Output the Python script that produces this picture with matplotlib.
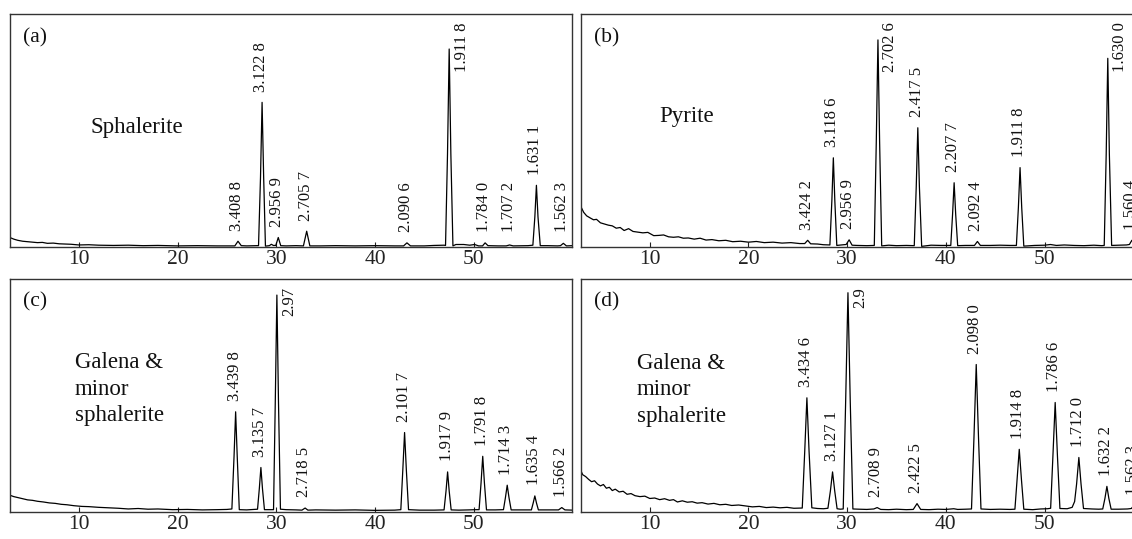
import matplotlib
matplotlib.use("Agg")
import matplotlib.pyplot as plt
import numpy as np

plt.rcParams['font.family'] = ['Liberation Serif', 'DejaVu Serif']

# ---- (a) sphalerite: 2theta / relative intensity
tt_a = [3.0, 3.4, 3.8, 4.3, 4.8, 5.3, 5.8, 6.3, 6.8, 7.4, 8.0, 8.6, 9.2, 10.0, 11.0, 12.0, 13.5, 15.0, 16.5, 18.0, 20.0, 22.0, 24.0, 25.8,
        26.12, 26.45, 27.0, 28.0, 28.2, 28.4, 28.56, 28.72, 28.9, 29.3, 29.5, 29.7, 29.95, 30.2, 30.45,
        31.0, 32.0, 32.75, 33.08, 33.4, 34.5, 36.0, 38.0, 40.0, 42.0, 42.9, 43.24, 43.6, 45.0, 46.0, 47.0, 47.15,
        47.35, 47.52, 47.69, 47.9, 48.2, 49.0, 49.6, 50.1, 50.5, 50.9, 51.16, 51.45, 52.5, 53.3, 53.64, 54.0,
        55.5, 56.0, 56.2, 56.36, 56.52, 56.75, 57.5, 58.5, 58.8, 59.09, 59.4, 60.0]
int_a = [4.2, 3.5, 3.0, 2.6, 2.4, 2.2, 2.0, 2.1, 1.7, 1.8, 1.5, 1.4, 1.3, 1.0, 1.1, 0.9, 0.8, 0.9, 0.7, 0.8, 0.6, 0.7, 0.6, 0.6,
         2.6, 0.7, 0.6, 0.7, 0.7, 30.0, 62.2, 30.0, 0.5, 0.7, 1.3, 0.8, 0.8, 4.2, 0.7,
         0.6, 0.7, 0.6, 6.9, 0.6, 0.6, 0.7, 0.6, 0.7, 0.6, 0.6, 1.9, 0.6, 0.6, 0.8, 0.9, 0.8,
         40.0, 85.1, 40.0, 0.6, 1.2, 1.2, 0.9, 1.2, 0.6, 0.6, 1.9, 0.7, 0.6, 0.6, 1.0, 0.6,
         0.7, 0.9, 13.0, 26.6, 13.0, 0.7, 0.7, 0.6, 0.7, 1.7, 0.6, 0.7]
pos_a = [26.12, 28.56, 30.20, 33.08, 43.24, 47.52, 51.16, 53.64, 56.36, 59.09]
lab_a = ['3.408 8', '3.122 8', '2.956 9', '2.705 7', '2.090 6', '1.911 8', '1.784 0', '1.707 2', '1.631 1', '1.562 3']

# ---- (b) pyrite
tt_b = [3.0, 3.3, 3.6, 4.0, 4.3, 4.6, 5.0, 5.4, 5.8, 6.2, 6.6, 7.0, 7.4, 7.85, 8.3, 8.8, 9.3, 9.8, 10.4, 10.9,
        11.4, 11.9, 12.4, 12.9, 13.4, 13.9, 14.5, 15.1, 15.7, 16.3, 17.0, 17.7, 18.4, 19.2, 20.0, 20.8, 21.6, 22.5, 23.4, 24.3, 25.2, 25.7,
        26.0, 26.3, 27.0, 27.6, 28.25, 28.45, 28.6, 28.75, 28.95, 29.4, 29.9, 30.2, 30.5,
        31.0, 32.0, 32.75, 32.95, 33.12, 33.29, 33.5, 34.2, 35.0, 36.0, 36.8, 37.0, 37.16, 37.32, 37.55,
        38.5, 39.5, 40.5, 40.68, 40.84, 41.0, 41.2, 42.0, 42.9, 43.2, 43.5, 44.5, 45.5, 46.5, 47.15, 47.35, 47.52, 47.69, 47.9,
        49.0, 50.0, 50.6, 51.2, 52.0, 53.0, 54.0, 55.0, 55.8, 56.05, 56.25, 56.41, 56.57, 56.8, 57.5, 58.3, 58.6, 58.85, 59.1, 60.0]
int_b = [17.6, 15.0, 13.5, 12.5, 11.8, 12.0, 10.5, 10.0, 9.5, 9.2, 8.2, 8.5, 7.2, 8.0, 6.8, 6.5, 6.2, 6.4, 5.0, 5.1,
         5.3, 4.5, 4.3, 4.5, 3.9, 4.0, 3.5, 3.9, 3.1, 3.3, 2.8, 3.0, 2.4, 2.6, 2.2, 2.5, 2.0, 2.2, 1.8, 2.0, 1.6, 1.6,
         3.0, 1.5, 1.4, 1.1, 1.0, 20.0, 38.4, 20.0, 0.8, 1.0, 1.2, 3.2, 0.9,
         0.8, 0.7, 0.8, 45.0, 89.0, 45.0, 0.6, 0.9, 0.7, 0.8, 0.7, 26.0, 51.3, 26.0, 0.4,
         0.9, 0.8, 0.8, 14.0, 27.7, 14.0, 0.7, 0.8, 0.8, 2.5, 0.8, 0.8, 0.9, 0.8, 0.8, 17.0, 34.2, 17.0, 0.5,
         0.8, 0.9, 1.2, 0.8, 1.0, 0.8, 0.7, 0.9, 0.7, 0.8, 40.0, 81.1, 40.0, 0.8, 0.9, 1.0, 1.2, 3.0, 1.2, 1.0]
pos_b = [26.0, 28.6, 30.2, 33.12, 37.16, 40.84, 43.2, 47.52, 56.41, 58.85]
lab_b = ['3.424 2', '3.118 6', '2.956 9', '2.702 6', '2.417 5', '2.207 7', '2.092 4', '1.911 8', '1.630 0', '1.560 4']

# ---- (c) galena & minor sphalerite
tt_c = [3.0, 3.4, 3.8, 4.3, 4.8, 5.3, 5.8, 6.4, 7.0, 7.6, 8.2, 8.8, 9.5, 10.3, 11.0, 12.0, 13.0, 14.0, 15.0, 16.0,
        17.0, 18.0, 19.5, 21.0, 22.5, 24.0, 25.0, 25.5,
        25.72, 25.88, 26.04, 26.25, 27.0, 28.1, 28.28, 28.44, 28.6, 28.8, 29.3, 29.72, 29.9, 30.06, 30.22, 30.42,
        31.0, 32.0, 32.6, 32.92, 33.2, 34.0, 36.0, 38.0, 40.0, 42.0, 42.62, 42.82, 43.0, 43.18, 43.4,
        44.5, 46.0, 47.0, 47.2, 47.36, 47.52, 47.72, 48.5, 49.5, 50.3, 50.55, 50.75, 50.92, 51.09, 51.3,
        52.2, 53.02, 53.22, 53.4, 53.58, 53.8, 54.8, 55.85, 56.03, 56.2, 56.37, 56.56, 57.5, 58.6, 58.93, 59.25, 60.0]
int_c = [7.2, 6.6, 6.2, 5.7, 5.2, 5.0, 4.6, 4.3, 3.9, 3.7, 3.3, 3.1, 2.7, 2.4, 2.3, 2.0, 1.8, 1.6, 1.3, 1.5,
         1.2, 1.3, 1.0, 1.1, 0.9, 1.0, 1.1, 1.3,
         24.0, 43.0, 24.0, 1.0, 0.9, 1.2, 10.0, 19.1, 10.0, 1.0, 1.0, 1.0, 48.0, 93.1, 48.0, 1.2,
         1.0, 0.9, 0.8, 1.7, 0.8, 0.9, 0.8, 0.9, 0.7, 0.8, 1.0, 18.0, 34.1, 18.0, 1.0,
         0.8, 0.8, 0.9, 9.0, 17.2, 9.0, 0.9, 0.8, 0.9, 1.0, 1.0, 12.5, 23.9, 12.5, 0.9,
         0.9, 1.0, 6.2, 11.5, 6.2, 0.9, 0.9, 0.9, 3.8, 6.9, 3.8, 0.9, 0.9, 0.9, 1.9, 0.9, 0.8]
pos_c = [25.88, 28.44, 30.06, 32.92, 43.0, 47.36, 50.92, 53.4, 56.2, 58.93]
lab_c = ['3.439 8', '3.135 7', '2.97', '2.718 5', '2.101 7', '1.917 9', '1.791 8', '1.714 3', '1.635 4', '1.566 2']

# ---- (d) galena & minor sphalerite
tt_d = [3.0, 3.2, 3.5, 3.8, 4.1, 4.4, 4.7, 5.0, 5.3, 5.6, 5.9, 6.2, 6.5, 6.9, 7.3, 7.7, 8.1, 8.5, 9.0, 9.5,
        10.0, 10.5, 11.0, 11.5, 12.0, 12.4, 12.8, 13.3, 13.8, 14.3, 14.8, 15.3, 15.9, 16.5, 17.1, 17.7, 18.3, 19.0, 19.7, 20.4,
        21.1, 21.8, 22.5, 23.2, 23.9, 24.6, 25.45,
        25.7, 25.92, 26.14, 26.42, 27.0, 27.6, 28.05, 28.3, 28.52, 28.74, 28.98, 29.3, 29.6, 29.85, 30.08, 30.31, 30.58,
        31.2, 32.0, 32.7, 33.04, 33.4, 34.2, 35.0, 36.0, 36.7, 37.08, 37.45, 38.3, 39.2, 40.0, 40.8, 41.2, 42.0, 42.6, 42.85, 43.08, 43.31, 43.56,
        44.5, 45.5, 46.5, 47.0, 47.22, 47.44, 47.66, 47.9, 48.8, 49.6, 50.3, 50.62, 50.85, 51.08, 51.31, 51.56,
        52.3, 52.8, 53.05, 53.25, 53.48, 53.7, 53.95, 54.8, 55.5, 55.9, 56.12, 56.32, 56.52, 56.75, 57.5, 58.4, 58.8, 59.09, 59.4, 60.0]
int_d = [17.9, 16.0, 15.2, 14.0, 13.0, 13.4, 12.0, 11.2, 11.8, 10.2, 10.6, 9.2, 9.8, 8.6, 8.9, 7.6, 7.9, 7.0, 6.6, 6.8,
         5.8, 6.0, 5.3, 5.7, 5.0, 5.3, 4.3, 4.8, 4.2, 4.4, 3.8, 4.0, 3.4, 3.7, 3.1, 3.3, 2.8, 3.0, 2.6, 2.2,
         2.4, 1.9, 2.1, 1.8, 2.0, 1.6, 1.7,
         26.0, 49.0, 26.0, 1.8, 1.5, 1.4, 1.6, 9.0, 17.2, 9.0, 1.4, 1.2, 1.3, 48.0, 94.1, 48.0, 1.3,
         1.2, 1.1, 1.3, 1.9, 1.1, 1.0, 1.2, 1.0, 1.1, 3.6, 1.1, 1.0, 1.2, 1.1, 1.4, 1.1, 1.2, 1.3, 32.0, 63.3, 32.0, 1.3,
         1.1, 1.2, 1.1, 1.2, 14.0, 26.9, 14.0, 1.2, 1.0, 1.3, 1.4, 1.6, 24.0, 47.0, 24.0, 1.5,
         1.4, 2.0, 4.5, 12.0, 23.4, 12.0, 1.5, 1.3, 1.2, 1.3, 5.8, 11.0, 5.8, 1.2, 1.2, 1.3, 1.5, 3.0, 1.3, 1.2]
pos_d = [25.92, 28.52, 30.08, 33.04, 37.08, 43.08, 47.44, 51.08, 53.48, 56.32, 59.09]
lab_d = ['3.434 6', '3.127 1', '2.9', '2.708 9', '2.422 5', '2.098 0', '1.914 8', '1.786 6', '1.712 0', '1.632 2', '1.562 3']

panel_tags = ['(a)', '(b)', '(c)', '(d)']
minerals = ['Sphalerite', 'Pyrite', 'Galena &\nminor\nsphalerite', 'Galena &\nminor\nsphalerite']

fig = plt.figure(figsize=(11.32, 5.39), dpi=100)
# right-hand panels run past the figure edge (the original is cropped there)
boxes = [[0.0087, 0.5412, 0.4969, 0.4323],
         [0.5130, 0.5412, 0.4969, 0.4323],
         [0.0087, 0.0501, 0.4969, 0.4323],
         [0.5130, 0.0501, 0.4969, 0.4323]]
name_xy = [(0.143, 0.516), (0.140, 0.56), (0.115, 0.527), (0.100, 0.525)]

panels = [(tt_a, int_a, pos_a, lab_a), (tt_b, int_b, pos_b, lab_b),
          (tt_c, int_c, pos_c, lab_c), (tt_d, int_d, pos_d, lab_d)]

for k, (tt, cps, pos, lab) in enumerate(panels):
    ax = fig.add_axes(boxes[k])
    tt = np.array(tt)
    cps = np.array(cps)
    ax.plot(tt, cps, color='black', linewidth=0.9)
    ax.set_xlim(3, 60)
    ax.set_ylim(0, 100)
    ax.set_yticks([])
    ax.set_xticks([10, 20, 30, 40, 50])
    ax.tick_params(axis='x', direction='in', length=3.5, width=0.8, pad=2.3,
                   labelsize=15.5, colors='#222222')
    for sp in ax.spines.values():
        sp.set_linewidth(1.0)
        sp.set_color('#333333')

    for p, s in zip(pos, lab):
        h = cps[np.abs(tt - p) < 0.2].max()
        if h > 75:
            ax.text(p + 0.45, 96.5, s, rotation=90, ha='left', va='top',
                    fontsize=12, color='#111111', clip_on=True)
        else:
            ax.text(p - 0.1, max(h + 4.5, 6.5), s, rotation=90, ha='center', va='bottom',
                    fontsize=12, color='#111111', clip_on=True)

    ax.text(0.024, 0.90, panel_tags[k], transform=ax.transAxes, ha='left', va='center',
            fontsize=15.5, color='#111111')
    ax.text(name_xy[k][0], name_xy[k][1], minerals[k], transform=ax.transAxes,
            ha='left', va='center', fontsize=16.5, linespacing=1.35, color='#111111')

fig.savefig("out.png", dpi=100)
